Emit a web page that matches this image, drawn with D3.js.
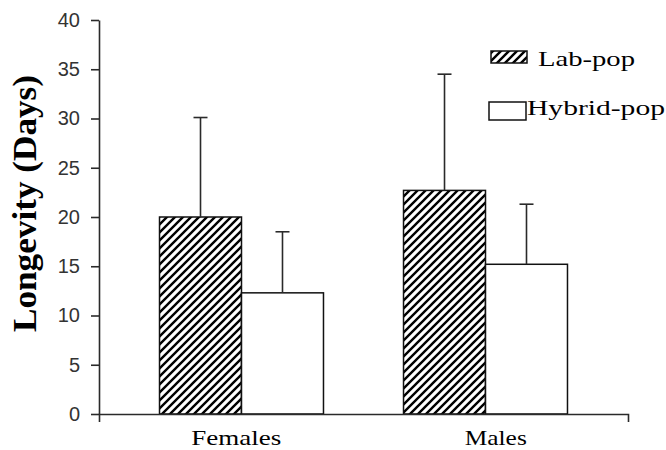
<!DOCTYPE html>
<html>
<head>
<meta charset="utf-8">
<script src="https://cdn.jsdelivr.net/npm/d3@7"></script>
<style>
  html, body { margin: 0; padding: 0; background: #fff; }
  svg { display: block; }
</style>
</head>
<body>
<svg id="chart" width="666" height="450"></svg>
<script>
const categories = ['Females', 'Males']
const series = ['Lab-pop', 'Hybrid-pop']
const labMeans = [20.0, 22.7]
const labSD = [10.1, 11.8]
const hybridMeans = [12.3, 15.2]
const hybridSD = [6.2, 6.1]
const yTicks = [0, 5, 10, 15, 20, 25, 30, 35, 40]

const data = []
categories.forEach((c, i) => {
    data.push({cat: c, s: series[0], mean: labMeans[i], sd: labSD[i]})
    data.push({cat: c, s: series[1], mean: hybridMeans[i], sd: hybridSD[i]})
})

const svg = d3.select('#chart')
const plot = {left: 99, right: 628, top: 20, bottom: 414}
const ink = '#2a2a2a'

// hatch pattern for Lab-pop
const defs = svg.append('defs')
defs.append('pattern')
    .attr('id', 'hatch')
    .attr('patternUnits', 'userSpaceOnUse')
    .attr('width', 8).attr('height', 8)
    .append('path')
    .attr('d', 'M-2,2 l4,-4 M0,8 l8,-8 M6,10 l4,-4')
    .attr('stroke', '#000')
    .attr('stroke-width', 2.4)

const yScale = d3.scaleLinear().domain([0, 40]).range([plot.bottom, plot.top])

// axis band for labels, bar band for the grouped bars
const xAxisScale = d3.scaleBand().domain(categories).range([plot.left, plot.right]).padding(0)
const xScale = d3.scaleBand().domain(categories).range([plot.left, plot.right])
    .paddingInner(0.328).paddingOuter(0.248)
const xInner = d3.scaleBand().domain(series).range([0, xScale.bandwidth()])

const fill = {'Lab-pop': 'url(#hatch)', 'Hybrid-pop': '#fff'}

// bars
svg.append('g').selectAll('rect')
    .data(data)
    .join('rect')
    .attr('x', d => xScale(d.cat) + xInner(d.s))
    .attr('y', d => yScale(d.mean))
    .attr('width', xInner.bandwidth())
    .attr('height', d => yScale(0) - yScale(d.mean))
    .attr('fill', d => fill[d.s])
    .attr('stroke', '#111')
    .attr('stroke-width', 1.5)

// error bars (upper only)
const err = svg.append('g').attr('stroke', ink).attr('stroke-width', 1.6)
const cx = d => xScale(d.cat) + xInner(d.s) + xInner.bandwidth() / 2
err.selectAll('line.v')
    .data(data)
    .join('line')
    .attr('class', 'v')
    .attr('x1', cx).attr('x2', cx)
    .attr('y1', d => yScale(d.mean))
    .attr('y2', d => yScale(d.mean + d.sd))
err.selectAll('line.cap')
    .data(data)
    .join('line')
    .attr('class', 'cap')
    .attr('x1', d => cx(d) - 7).attr('x2', d => cx(d) + 7)
    .attr('y1', d => yScale(d.mean + d.sd))
    .attr('y2', d => yScale(d.mean + d.sd))

// y axis
const yAxis = svg.append('g')
    .attr('transform', `translate(${plot.left},0)`)
    .call(d3.axisLeft(yScale).tickValues(yTicks).tickSize(8).tickSizeOuter(0).tickPadding(11))
yAxis.selectAll('path, line').attr('stroke', ink).attr('stroke-width', 1.6)
yAxis.selectAll('text')
    .style('font-family', '"Liberation Sans", Arial, sans-serif')
    .style('font-size', '20px')
    .attr('fill', '#333')

// x axis
const xAxis = svg.append('g')
    .attr('transform', `translate(0,${plot.bottom})`)
    .call(d3.axisBottom(xAxisScale).tickSize(0).tickSizeOuter(8).tickFormat(''))
xAxis.selectAll('path, line').attr('stroke', ink).attr('stroke-width', 1.6)

svg.append('g').selectAll('text')
    .data(categories)
    .join('text')
    .attr('x', d => xAxisScale(d) + xAxisScale.bandwidth() / 2 + (d === 'Females' ? 5 : 0))
    .attr('y', 445)
    .attr('text-anchor', 'middle')
    .attr('textLength', d => d === 'Females' ? 90 : 62)
    .attr('lengthAdjust', 'spacingAndGlyphs')
    .style('font-family', '"Liberation Serif", "Times New Roman", serif')
    .style('font-size', '22px')
    .text(d => d)

// y label
svg.append('text')
    .attr('transform', `translate(36,${(75 + 332) / 2}) rotate(-90)`)
    .attr('text-anchor', 'middle')
    .attr('textLength', 257)
    .attr('lengthAdjust', 'spacingAndGlyphs')
    .style('font-family', '"Liberation Serif", "Times New Roman", serif')
    .style('font-size', '33px')
    .style('font-weight', 'bold')
    .text('Longevity (Days)')

// legend
const legend = [
    {s: series[0], x: 491, y: 51, w: 36, h: 12, tx: 538, ty: 66, tl: 97},
    {s: series[1], x: 489, y: 102, w: 37, h: 18, tx: 527, ty: 115, tl: 138}
]
const lg = svg.append('g')
lg.selectAll('rect')
    .data(legend)
    .join('rect')
    .attr('x', d => d.x).attr('y', d => d.y)
    .attr('width', d => d.w).attr('height', d => d.h)
    .attr('fill', d => fill[d.s])
    .attr('stroke', '#111')
    .attr('stroke-width', 1.5)
lg.selectAll('text')
    .data(legend)
    .join('text')
    .attr('x', d => d.tx).attr('y', d => d.ty)
    .attr('textLength', d => d.tl)
    .attr('lengthAdjust', 'spacingAndGlyphs')
    .style('font-family', '"Liberation Serif", "Times New Roman", serif')
    .style('font-size', '21px')
    .text(d => d.s)
</script>
</body>
</html>
